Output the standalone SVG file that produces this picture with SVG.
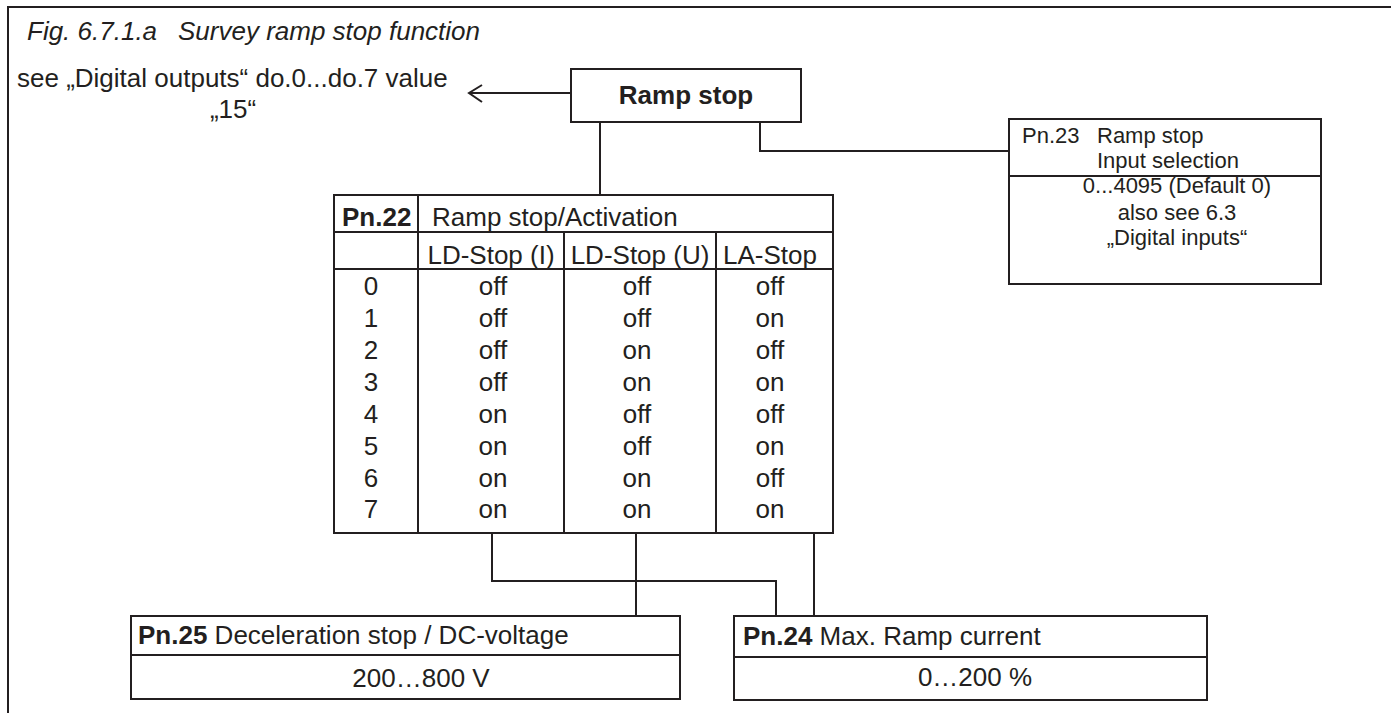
<svg xmlns="http://www.w3.org/2000/svg" width="1391" height="713" viewBox="0 0 1391 713">
<style>
text{font-family:"Liberation Sans",Arial,sans-serif;fill:#231f20}
.t26{font-size:26px}
.t22{font-size:22px}
.b{font-weight:bold}
.m{text-anchor:middle}
.ln{stroke:#231f20;stroke-width:2;fill:none}
.box{fill:#fff;stroke:#231f20;stroke-width:2}
</style>
<rect width="1391" height="713" fill="#fff"/>
<g id="frame">
<path class="ln" d="M8 713 V7 H1391" stroke-width="2.5"/>
</g>
<g id="title">
<text class="t26" font-style="italic" x="27" y="40">Fig. 6.7.1.a<tspan x="178">Survey ramp stop function</tspan></text>
</g>
<g id="digital-outputs-note">
<text class="t26" x="17" y="87">see „Digital outputs“ do.0...do.7 value</text>
<text class="t26 m" x="233" y="118">„15“</text>
</g>
<g id="connectors">
<path class="ln" d="M571 93 H469"/>
<path class="ln" d="M482 85 L469 93 L482 102"/>
<path class="ln" d="M600 122 V195"/>
<path class="ln" d="M760 122 V151 H1009"/>
<path class="ln" d="M492 533 V581 H776 V616"/>
<path class="ln" d="M636 533 V616"/>
<path class="ln" d="M814 533 V616"/>
</g>
<g id="ramp-stop">
<rect class="box" x="571" y="69" width="230" height="53"/>
<text class="t26 b m" x="686" y="104">Ramp stop</text>
</g>
<g id="pn23">
<rect class="box" x="1009" y="119" width="312" height="165"/>
<path class="ln" d="M1009 176 H1321"/>
<text class="t22" x="1022" y="143">Pn.23<tspan x="1097">Ramp stop</tspan></text>
<text class="t22" x="1097" y="168">Input selection</text>
<text class="t22 m" x="1177" y="193">0...4095 (Default 0)</text>
<text class="t22 m" x="1177" y="220">also see 6.3</text>
<text class="t22 m" x="1177" y="245">„Digital inputs“</text>
</g>
<g id="pn22">
<rect class="box" x="334" y="195" width="499" height="338"/>
<path class="ln" d="M334 232 H833 M334 269 H833 M418 195 V533 M564 232 V533 M716 232 V533"/>
<text class="t26 b" x="342" y="226">Pn.22</text>
<text class="t26" x="432" y="226">Ramp stop/Activation</text>
<text class="t26 m" x="491" y="264">LD-Stop (I)</text>
<text class="t26 m" x="640" y="264">LD-Stop (U)</text>
<text class="t26 m" x="770" y="264">LA-Stop</text>
<g class="t26 m">
<text x="371" y="295">0</text><text x="493" y="295">off</text><text x="637" y="295">off</text><text x="770" y="295">off</text>
<text x="371" y="327">1</text><text x="493" y="327">off</text><text x="637" y="327">off</text><text x="770" y="327">on</text>
<text x="371" y="359">2</text><text x="493" y="359">off</text><text x="637" y="359">on</text><text x="770" y="359">off</text>
<text x="371" y="391">3</text><text x="493" y="391">off</text><text x="637" y="391">on</text><text x="770" y="391">on</text>
<text x="371" y="423">4</text><text x="493" y="423">on</text><text x="637" y="423">off</text><text x="770" y="423">off</text>
<text x="371" y="455">5</text><text x="493" y="455">on</text><text x="637" y="455">off</text><text x="770" y="455">on</text>
<text x="371" y="487">6</text><text x="493" y="487">on</text><text x="637" y="487">on</text><text x="770" y="487">off</text>
<text x="371" y="518">7</text><text x="493" y="518">on</text><text x="637" y="518">on</text><text x="770" y="518">on</text>
</g>
</g>
<g id="pn25">
<rect class="box" x="131" y="616" width="549" height="83"/>
<path class="ln" d="M131 655 H680"/>
<text class="t26" x="138" y="644"><tspan class="b">Pn.25</tspan> Deceleration stop / DC-voltage</text>
<text class="t26 m" x="421" y="687">200…800 V</text>
</g>
<g id="pn24">
<rect class="box" x="734" y="616" width="473" height="84"/>
<path class="ln" d="M734 657 H1207"/>
<text class="t26" x="743" y="645"><tspan class="b">Pn.24</tspan> Max. Ramp current</text>
<text class="t26 m" x="975" y="686">0…200 %</text>
</g>
</svg>
